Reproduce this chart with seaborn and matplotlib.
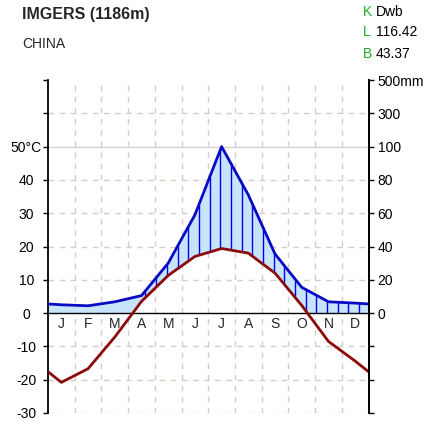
import numpy as np
import pandas as pd
import matplotlib
matplotlib.use("Agg")
import matplotlib.pyplot as plt
import seaborn as sns

# ---- data ----
months = ["J", "F", "M", "A", "M", "J", "J", "A", "S", "O", "N", "D"]
temperature = [-20.8, -16.7, -7.2, 3.5, 11.3, 17.0, 19.4, 18.0, 12.0, 2.3, -8.5, -14.4]  # °C
precipitation = [5.0, 4.4, 6.8, 10.5, 30.0, 59.0, 100.0, 71.0, 35.5, 15.5, 6.8, 6.0]  # mm
station = "IMGERS (1186m)"
country = "CHINA"
climate_code = "Dwb"
longitude = "116.42"
latitude = "43.37"
left_labels = ["-30", "-20", "-10", "0", "10", "20", "30", "40", "50°C", "", ""]
right_labels = ["", "", "", "0", "20", "40", "60", "80", "100", "300", "500mm"]

sns.set_style("white")
plt.rcParams["font.family"] = ["Liberation Sans", "DejaVu Sans"]

W, H = 429, 425
fig = plt.figure(figsize=(W / 100, H / 100), dpi=100)
ax = fig.add_axes([48 / W, 1 - 413 / H, 320.5 / W, 333 / H])


def prec_scale(p):
    p = np.asarray(p, dtype=float)
    return np.where(p <= 100, p / 2.0, 50 + (p - 100) / 20.0)


centers = np.arange(12) + 0.5
x_ext = np.concatenate([[0.0], centers, [12.0]])
t_arr = np.array(temperature)
p_arr = prec_scale(precipitation)
t_edge = (t_arr[0] + t_arr[-1]) / 2
p_edge = (p_arr[0] + p_arr[-1]) / 2
t_ext = np.concatenate([[t_edge], t_arr, [t_edge]])
p_ext = np.concatenate([[p_edge], p_arr, [p_edge]])

# fill (humid zone)
xs = np.linspace(0, 12, 2401)
T = np.interp(xs, x_ext, t_ext)
P = np.interp(xs, x_ext, p_ext)
low = np.maximum(T, 0)
ax.fill_between(xs, low, P, where=P > low, color="#c8e4fa", lw=0, zorder=1, interpolate=True)

# hatching
first_warm = centers[np.argmax(t_arr > 0)]
hx = np.arange(0.05, 12, 0.4)
Th = np.interp(hx, x_ext, t_ext)
Ph = np.interp(hx, x_ext, p_ext)
mask = (hx >= first_warm) & (Ph > np.maximum(Th, 0))
ax.vlines(hx[mask], np.maximum(Th, 0)[mask], Ph[mask], color="#0000ff", lw=1.0, zorder=2)

# grid
grid_c = "#d6cec6"
for yv in range(-30, 61, 10):
    if yv == 0:
        continue
    if yv == 50:
        ax.axhline(yv, color="#d4d4d4", lw=1.0, zorder=0.5)
    else:
        ax.axhline(yv, color=grid_c, lw=1.0, ls=(0, (4, 4)), zorder=0.5)
for xv in range(1, 12):
    ax.axvline(xv, color=grid_c, lw=1.0, ls=(0, (4, 4)), zorder=0.5)
ax.axhline(0, color="black", lw=1.0, zorder=3)

df = pd.DataFrame({"x": x_ext, "temp": t_ext, "prec": p_ext})
sns.lineplot(data=df, x="x", y="prec", color="#0a0ac4", lw=2.0, ax=ax, zorder=4, sort=False)
sns.lineplot(data=df, x="x", y="temp", color="#8c0a0a", lw=2.0, ax=ax, zorder=5, sort=False)

ax.set_xlim(0, 12)
ax.set_ylim(-30, 70)
ax.set_xlabel("")
ax.set_ylabel("")
ax.set_xticks([])
yt = list(range(-30, 71, 10))
ax.set_yticks(yt)
ax.set_yticklabels(left_labels, fontsize=10)
ax.tick_params(axis="y", direction="out", length=3.5, width=1, pad=12, colors="black")
for lab in ax.get_yticklabels():
    lab.set_horizontalalignment("center")
for s in ["top", "bottom"]:
    ax.spines[s].set_visible(False)
for s in ["left", "right"]:
    ax.spines[s].set_color("black")
    ax.spines[s].set_linewidth(1.3)

ax2 = ax.twinx()
ax2.set_ylim(-30, 70)
ax2.set_yticks(yt)
ax2.set_yticklabels(right_labels, fontsize=10)
ax2.tick_params(axis="y", direction="out", length=3.5, width=1, pad=3, colors="black")
for s in ["top", "bottom", "left"]:
    ax2.spines[s].set_visible(False)
ax2.spines["right"].set_color("black")
ax2.spines["right"].set_linewidth(1.3)
ax2.grid(False)

# month labels
for c, m in zip(centers, months):
    ax.text(c, -3.4, m, ha="center", va="center", fontsize=10, zorder=6)

# header texts
fig.text(22 / W, 1 - 14 / H, station, fontsize=11.5, fontweight="bold", ha="left", va="center")
fig.text(22 / W, 1 - 43.5 / H, country, fontsize=10, ha="left", va="center")
green = "#22aa22"
for yy, key, val in [(12.5, "K", climate_code), (32.5, "L", longitude), (53.5, "B", latitude)]:
    fig.text(363 / W, 1 - yy / H, key, color=green, fontsize=10, ha="left", va="center")
    fig.text(376 / W, 1 - yy / H, val, color="black", fontsize=10, ha="left", va="center")

fig.savefig("out.png", dpi=100, facecolor="white")
